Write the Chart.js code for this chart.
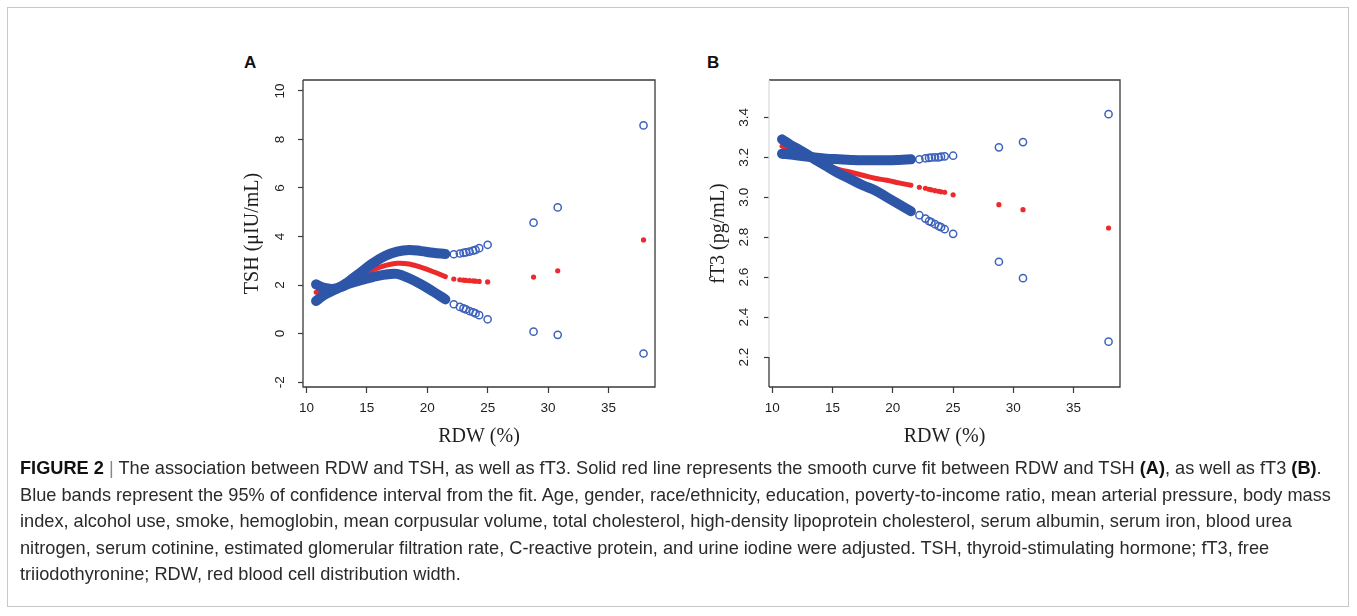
<!DOCTYPE html>
<html>
<head>
<meta charset="utf-8">
<script src="https://cdn.jsdelivr.net/npm/chart.js@4.4.0/dist/chart.umd.min.js"></script>
<style>
  html, body { margin:0; padding:0; background:#fff; }
  body { width:1357px; height:616px; position:relative; overflow:hidden; }
  #frame { position:absolute; left:7px; top:7px; width:1342px; height:600px; border:1px solid #c8c8c8; box-sizing:border-box; }
  canvas { position:absolute; }
  .letter { position:absolute; font-family:"Liberation Sans", Arial, sans-serif; font-weight:bold; font-size:17px; color:#111; }
  #caption { position:absolute; left:20px; top:455px; font-family:"Liberation Sans", Arial, sans-serif; font-size:16.5px; line-height:26.5px; color:#2a2a2a; white-space:nowrap; }
  #caption b { font-weight:bold; color:#111; }
  .sep { color:#888; }
</style>
</head>
<body>
<div id="frame"></div>
<div class="letter" style="left:244px; top:53px;">A</div>
<div class="letter" style="left:707px; top:53px;">B</div>
<canvas id="cA" width="440" height="410" style="left:230px; top:50px;"></canvas>
<canvas id="cB" width="440" height="410" style="left:696px; top:50px;"></canvas>
<div id="caption">
  <div id="l1"><b>FIGURE 2</b> <span class="sep">|</span> The association between RDW and TSH, as well as fT3. Solid red line represents the smooth curve fit between RDW and TSH <b>(A)</b>, as well as fT3 <b>(B)</b>.</div>
  <div id="l2">Blue bands represent the 95% of confidence interval from the fit. Age, gender, race/ethnicity, education, poverty-to-income ratio, mean arterial pressure, body mass</div>
  <div>index, alcohol use, smoke, hemoglobin, mean corpusular volume, total cholesterol, high-density lipoprotein cholesterol, serum albumin, serum iron, blood urea</div>
  <div>nitrogen, serum cotinine, estimated glomerular filtration rate, C-reactive protein, and urine iodine were adjusted. TSH, thyroid-stimulating hormone; fT3, free</div>
  <div>triiodothyronine; RDW, red blood cell distribution width.</div>
</div>
<script>
// ---------- data ----------
const xTicks = [10, 15, 20, 25, 30, 35];
const tshTicks = [-2, 0, 2, 4, 6, 8, 10];
const ft3Ticks = [2.2, 2.4, 2.6, 2.8, 3.0, 3.2, 3.4];

// dense part of the observations (RDW %)
const denseX = [10.8, 11.5, 12.3, 13.0, 13.5, 14.5, 15.5, 16.5, 17.5, 18.5, 19.5, 20.5, 21.5];
// sparse observations (RDW %)
const sparseX = [22.2, 22.7, 23.0, 23.2, 23.5, 23.8, 24.0, 24.3, 25.0, 28.8, 30.8, 37.9];

// Panel A: TSH
const tshUpperDense = [2.03, 1.88, 1.85, 1.98, 2.15, 2.52, 2.9, 3.2, 3.38, 3.45, 3.4, 3.33, 3.28];
const tshLowerDense = [1.34, 1.6, 1.8, 1.95, 2.05, 2.2, 2.33, 2.43, 2.46, 2.28, 2.03, 1.73, 1.41];
const tshFitDense   = [1.7, 1.75, 1.84, 1.98, 2.1, 2.38, 2.62, 2.8, 2.9, 2.87, 2.73, 2.55, 2.35];
const tshUpperSparse = [3.27, 3.3, 3.33, 3.35, 3.38, 3.42, 3.45, 3.52, 3.66, 4.57, 5.2, 8.58];
const tshLowerSparse = [1.21, 1.1, 1.04, 1.0, 0.93, 0.88, 0.83, 0.76, 0.59, 0.08, -0.05, -0.82];
const tshFitSparse   = [2.25, 2.22, 2.2, 2.19, 2.18, 2.17, 2.16, 2.15, 2.13, 2.33, 2.59, 3.86];

// Panel B: fT3
const ft3UpperDense = [3.218, 3.214, 3.208, 3.203, 3.199, 3.193, 3.19, 3.187, 3.185, 3.185, 3.185, 3.187, 3.19];
const ft3LowerDense = [3.29, 3.262, 3.235, 3.21, 3.19, 3.155, 3.12, 3.09, 3.06, 3.035, 3.0, 2.965, 2.93];
const ft3FitDense   = [3.256, 3.235, 3.215, 3.197, 3.18, 3.16, 3.14, 3.125, 3.11, 3.095, 3.085, 3.072, 3.06];
const ft3UpperSparse = [3.19, 3.195, 3.197, 3.199, 3.2, 3.2, 3.203, 3.205, 3.208, 3.25, 3.276, 3.416];
const ft3LowerSparse = [2.91, 2.893, 2.88, 2.875, 2.865, 2.855, 2.85, 2.84, 2.817, 2.677, 2.595, 2.277];
const ft3FitSparse   = [3.05, 3.045, 3.04, 3.037, 3.033, 3.03, 3.027, 3.025, 3.012, 2.963, 2.938, 2.846];

// ---------- styling ----------
const BLUE_BAND = '#2d55a8';
const BLUE_PT = '#3d62bd';
const RED = '#ec2a2c';
const AX = '#3a3a3a';

function pts(xs, ys) { return xs.map((x, i) => ({ x: x, y: ys[i] })); }

function bandLine(xs, ys, color, w) {
  return { data: pts(xs, ys), showLine: true, borderColor: color, borderWidth: w,
           pointRadius: 0, tension: 0.4, borderCapStyle: 'round', fill: false };
}
function openPts(xs, ys) {
  return { data: pts(xs, ys), showLine: false, pointStyle: 'circle', pointRadius: 3.6,
           pointBorderWidth: 1.5, borderColor: BLUE_PT, backgroundColor: 'rgba(255,255,255,0)' };
}
function redPts(xs, ys) {
  return { data: pts(xs, ys), showLine: false, pointStyle: 'circle', pointRadius: 2.6,
           pointBorderWidth: 0, borderColor: RED, backgroundColor: RED };
}

function boxPlugin(faintLeftAbove) {
  return {
    id: 'box',
    afterDatasetsDraw(chart) {
      const { ctx, chartArea: a } = chart;
      ctx.save();
      ctx.lineWidth = 1.3;
      ctx.strokeStyle = AX;
      ctx.beginPath();
      ctx.moveTo(a.left, a.top); ctx.lineTo(a.right, a.top);
      ctx.lineTo(a.right, a.bottom); ctx.lineTo(a.left, a.bottom);
      if (faintLeftAbove === null) ctx.lineTo(a.left, a.top);
      ctx.stroke();
      if (faintLeftAbove !== null) {
        const yy = chart.scales.y.getPixelForValue(faintLeftAbove);
        ctx.beginPath(); ctx.moveTo(a.left, a.bottom); ctx.lineTo(a.left, yy); ctx.stroke();
        ctx.strokeStyle = '#dcdcdc';
        ctx.beginPath(); ctx.moveTo(a.left, yy); ctx.lineTo(a.left, a.top); ctx.stroke();
      }
      ctx.restore();
    }
  };
}

function makeChart(id, datasets, yMin, yMax, yTicks, yFmt, yTitle, padRight, faint) {
  return new Chart(document.getElementById(id), {
    type: 'scatter',
    data: { datasets: datasets },
    options: {
      responsive: false, animation: false, devicePixelRatio: 1,
      layout: { padding: { top: 30, right: padRight, left: 0, bottom: 0 } },
      plugins: { legend: { display: false }, tooltip: { enabled: false } },
      scales: {
        x: {
          type: 'linear', min: 9.72, max: 38.85,
          afterBuildTicks: s => { s.ticks = xTicks.map(v => ({ value: v })); },
          afterFit: s => { s.height = 73; },
          grid: { drawOnChartArea: false, drawTicks: true, tickLength: 6, tickColor: AX, tickWidth: 1.2 },
          border: { display: false },
          ticks: { font: { family: 'Liberation Sans', size: 13.5 }, color: '#1e1e1e', padding: 7, maxRotation: 0, autoSkip: false },
          title: { display: true, text: 'RDW (%)', font: { family: 'Liberation Serif', size: 20 }, color: '#1e1e1e', padding: { top: 0, bottom: 11 } }
        },
        y: {
          type: 'linear', min: yMin, max: yMax,
          afterBuildTicks: s => { s.ticks = yTicks.map(v => ({ value: v })); },
          afterFit: s => { s.width = 73; },
          grid: { drawOnChartArea: false, drawTicks: true, tickLength: 5, tickColor: AX, tickWidth: 1.2 },
          border: { display: false },
          ticks: { font: { family: 'Liberation Sans', size: 13.5 }, color: '#1e1e1e', padding: 10,
                   minRotation: 90, maxRotation: 90, crossAlign: 'center', autoSkip: false,
                   callback: v => yFmt(v) },
          title: { display: true, text: yTitle, font: { family: 'Liberation Serif', size: 20 }, color: '#1e1e1e', padding: { top: 11, bottom: 0 } }
        }
      }
    },
    plugins: [boxPlugin(faint)]
  });
}

makeChart('cA', [
  bandLine(denseX, tshUpperDense, BLUE_BAND, 10),
  bandLine(denseX, tshLowerDense, BLUE_BAND, 10),
  openPts(sparseX, tshUpperSparse),
  openPts(sparseX, tshLowerSparse),
  bandLine(denseX, tshFitDense, RED, 5),
  redPts(sparseX, tshFitSparse)
], -2.2, 10.45, tshTicks, v => String(v), 'TSH (μIU/mL)', 15, null);

makeChart('cB', [
  bandLine(denseX, ft3UpperDense, BLUE_BAND, 10),
  bandLine(denseX, ft3LowerDense, BLUE_BAND, 10),
  openPts(sparseX, ft3UpperSparse),
  openPts(sparseX, ft3LowerSparse),
  bandLine(denseX, ft3FitDense, RED, 5),
  redPts(sparseX, ft3FitSparse)
], 2.05, 3.587, ft3Ticks, v => v.toFixed(1), 'fT3 (pg/mL)', 16, 2.2);

// fit caption width to the reference (line 2 spans ~20..1331 px)
(function () {
  const cap = document.getElementById('caption');
  const l2 = document.getElementById('l2');
  const w = l2.scrollWidth || l2.getBoundingClientRect().width;
  const span = document.createElement('span');
  span.textContent = l2.textContent;
  span.style.whiteSpace = 'nowrap';
  l2.textContent = '';
  l2.appendChild(span);
  const mw = span.getBoundingClientRect().width;
  if (mw > 0) {
    const fs = 16.5 * 1311 / mw;
    cap.style.fontSize = fs.toFixed(2) + 'px';
  }
})();
</script>
</body>
</html>
